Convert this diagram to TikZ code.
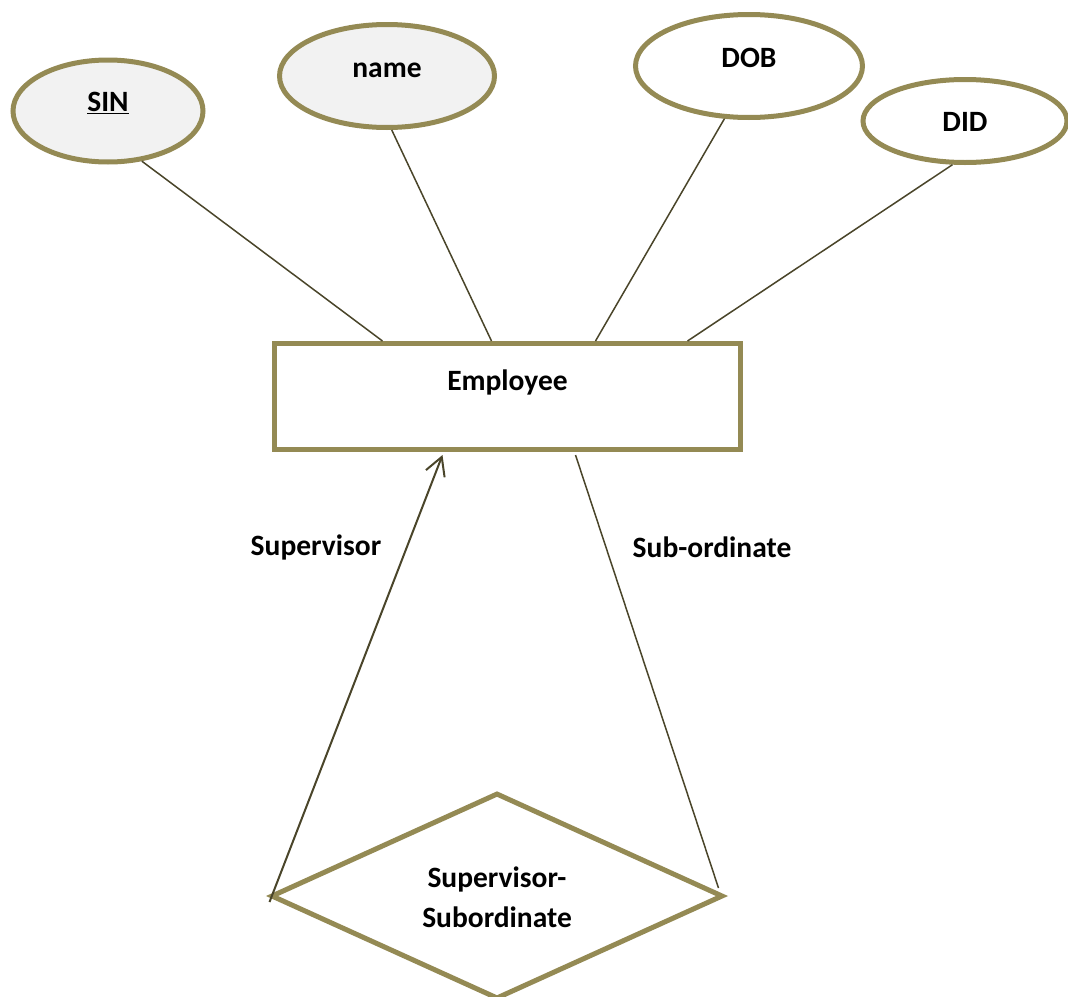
\documentclass[tikz,border=0pt]{standalone}
\usepackage{fontspec}
\setmainfont{Carlito}
\usetikzlibrary{shapes.geometric,arrows.meta}
\definecolor{olive}{HTML}{948A54}
\definecolor{lineclr}{HTML}{4A452A}
\definecolor{attrfill}{HTML}{F2F2F2}
\tikzset{
  attr/.style={ellipse, draw=olive, line width=5pt, inner sep=0pt},
  keyattr/.style={attr, fill=attrfill},
  txt/.style={font=\bfseries\fontsize{29.5}{40}\selectfont, inner sep=0pt, align=center},
  conn/.style={draw=lineclr, line width=1.5pt},
}
\begin{document}
\begin{tikzpicture}[x=1pt,y=-1pt]
\useasboundingbox (0,0) rectangle (1068,996);
% attributes
\node[keyattr, minimum width=190pt, minimum height=102pt] (sin) at (108,111) {};
\node[txt] (sint) at (108,103) {\underline{SIN}};
\node[keyattr, minimum width=215pt, minimum height=103pt] (name) at (387,76) {};
\node[txt] (namet) at (387,70) {name};
\node[attr, fill=white, minimum width=227pt, minimum height=103pt] (dob) at (749,66) {};
\node[txt] (dobt) at (749,58) {DOB};
\node[attr, fill=white, minimum width=204pt, minimum height=83pt] (did) at (965,121) {};
\node[txt] (didt) at (965,122) {DID};
% entity
\node[draw=olive, line width=5pt, fill=white, minimum width=466pt, minimum height=106pt, inner sep=0pt] (emp) at (507.5,396.5) {};
\node[txt] (empt) at (507.5,382) {Employee};
% relationship
\node[diamond, draw=olive, line width=5pt, fill=white, minimum width=452pt, minimum height=206pt, inner sep=0pt] (rel) at (497,896) {};
\node[txt] (relt) at (497,897) {Supervisor-\\Subordinate};
% attribute connectors
\draw[conn] (sin.-56) -- ([xshift=110.5pt]emp.north west);
\draw[conn] (name.-85) -- ([xshift=219.5pt]emp.north west);
\draw[conn] (dob.-115) -- ([xshift=323.5pt]emp.north west);
\draw[conn] (did.-106) -- ([xshift=415.5pt]emp.north west);
% role connectors
\coordinate (supstart) at ([xshift=1pt,yshift=-6pt]rel.west);
\coordinate (subend) at ([xshift=-7pt,yshift=8pt]rel.east);
\draw[conn, line width=2pt, -{Straight Barb[length=18pt,width=20pt,line width=2pt]}] (supstart) -- ([xshift=170.5pt,yshift=-3pt]emp.south west);
\draw[conn] ([xshift=303.5pt,yshift=-3pt]emp.south west) -- (subend);
% role labels
\node[txt] (suplab) at (316,547) {Supervisor};
\node[txt] (sublab) at (712,547) {Sub-ordinate};
\end{tikzpicture}
\end{document}
